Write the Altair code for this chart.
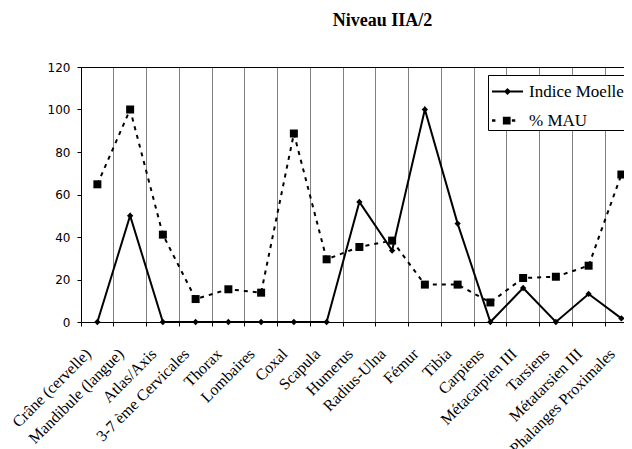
import altair as alt
import pandas as pd

categories = ["Crâne (cervelle)", "Mandibule (langue)", "Atlas/Axis", "3-7 ème Cervicales",
              "Thorax", "Lombaires", "Coxal", "Scapula", "Humerus", "Radius-Ulna", "Fémur",
              "Tibia", "Carpiens", "Métacarpien III", "Tarsiens", "Métatarsien III",
              "Phalanges Proximales"]
indice_moelle = [0, 50, 0, 0, 0, 0, 0, 0, 56.5, 33.6, 100, 46.3, 0, 16, 0, 13.2, 1.7]
pct_mau = [64.8, 100, 41.1, 10.8, 15.4, 13.8, 88.7, 29.5, 35.3, 38.3, 17.6, 17.6, 9.2,
           20.7, 21.3, 26.5, 69.4]
series_names = ["Indice Moelle", "% MAU"]
y_ticks = [0, 20, 40, 60, 80, 100, 120]

df_m = pd.DataFrame({"cat": categories, "value": indice_moelle, "series": series_names[0]})
df_a = pd.DataFrame({"cat": categories, "value": pct_mau, "series": series_names[1]})
df_all = pd.concat([df_m, df_a], ignore_index=True)

STEP = 32.75
FULL = STEP * len(categories)   # the frame runs past the right edge of the picture
W = 543
H = 255

xscale = alt.Scale(type="band", paddingInner=0, paddingOuter=0, range=[0, FULL])
main_axis = alt.Axis(
    bandPosition=0, grid=True, gridColor="#808080", gridWidth=1,
    ticks=True, tickSize=4, tickColor="black", domainColor="black",
    labelAngle=-45, labelAlign="right", labelBaseline="middle",
    labelOffset=-9, labelPadding=25,
    labelFont="Liberation Serif", labelFontSize=16, labelColor="black",
    labelOverlap=False,
)
top_axis = alt.Axis(orient="top", labels=False, ticks=False, grid=False,
                    domain=True, domainColor="black")

def xe(axis):
    return alt.X("cat:N", sort=categories, title=None, scale=xscale, axis=axis)

y_enc = alt.Y(
    "value:Q", title=None,
    scale=alt.Scale(domain=[0, 120], nice=False),
    axis=alt.Axis(values=y_ticks, grid=False, tickSize=4, tickColor="black",
                  domainColor="black", labelPadding=7, labelFont="DejaVu Sans",
                  labelFontSize=12, labelColor="black"),
)

line_a = alt.Chart(df_a).mark_line(color="black", strokeWidth=2, strokeDash=[4, 5]).encode(
    x=xe(main_axis), y=y_enc)
line_m = alt.Chart(df_m).mark_line(color="black", strokeWidth=2).encode(x=xe(None), y=y_enc)
pts_a = alt.Chart(df_a).mark_point(shape="square", filled=True, color="black",
                                   size=64, opacity=1).encode(x=xe(None), y=y_enc)
pts_m = alt.Chart(df_m).mark_point(shape="diamond", filled=True, color="black",
                                   size=40, opacity=1).encode(x=xe(None), y=y_enc)

path_m = "M-1,-0.065H1V0.065H-1Z M-0.23,0L0,-0.23L0.23,0L0,0.23Z"
path_a = ("M-1,-0.08H-0.78V0.08H-1Z M-0.3,-0.25H0.2V0.25H-0.3Z "
          "M0.28,-0.08H0.5V0.08H0.28Z")

legend_layer = alt.Chart(df_all).mark_point(filled=True, color="black", opacity=0).encode(
    x=xe(top_axis), y=y_enc,
    shape=alt.Shape(
        "series:N",
        scale=alt.Scale(domain=series_names, range=[path_m, path_a]),
        legend=alt.Legend(
            title=None, orient="none", legendX=407, legendY=8,
            strokeColor="black", fillColor="white", padding=1, cornerRadius=0,
            labelFont="Liberation Serif", labelFontSize=17, labelColor="black",
            labelOffset=6, symbolOffset=3, symbolSize=961, symbolOpacity=1,
            symbolStrokeWidth=0, symbolFillColor="black", rowPadding=5,
        ),
    ),
)

chart = alt.layer(line_a, line_m, pts_a, pts_m, legend_layer).resolve_axis(
    x="independent"
).properties(
    width=W, height=H,
    title=alt.TitleParams("Niveau IIA/2", font="Liberation Serif", fontSize=18,
                          fontWeight="bold", color="black", anchor="middle",
                          dx=30, baseline="bottom", offset=13),
    autosize=alt.AutoSizeParams(type="none"),
    padding={"left": 73, "top": 59, "right": 0, "bottom": 127},
).configure_view(stroke=None).configure(background="white")

chart.save("out.html", embed_options={"renderer": "svg", "actions": False})
